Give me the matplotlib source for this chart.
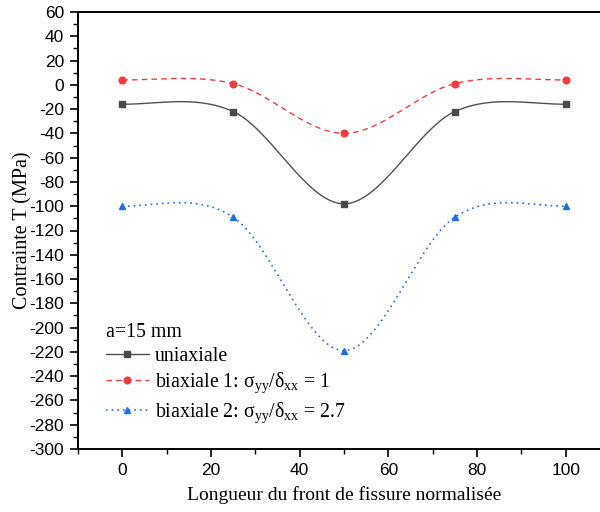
import numpy as np
import matplotlib
matplotlib.use("Agg")
import matplotlib.pyplot as plt
from matplotlib.ticker import MultipleLocator

# Position along the crack front (normalised) and T-stress values (MPa)
x_pos = [0, 25, 50, 75, 100]
t_uniaxiale = [-16, -22, -98, -22, -16]
t_biaxiale1 = [4, 1, -40, 1, 4]
t_biaxiale2 = [-100, -109, -219, -109, -100]

labels = [
    "uniaxiale",
    "biaxiale 1: σ$_{\\mathrm{yy}}$/δ$_{\\mathrm{xx}}$ = 1",
    "biaxiale 2: σ$_{\\mathrm{yy}}$/δ$_{\\mathrm{xx}}$ = 2.7",
]
legend_title = "a=15 mm"
xlabel = "Longueur du front de fissure normalisée"
ylabel = "Contrainte T (MPa)"


def hermite_curve(xk, yk, n=400):
    """Smooth curve through the points (cubic Hermite, central-difference
    tangents, flat ends)."""
    xk = np.asarray(xk, float)
    yk = np.asarray(yk, float)
    m = np.zeros_like(yk)
    m[1:-1] = (yk[2:] - yk[:-2]) / (xk[2:] - xk[:-2])
    xs = np.linspace(xk[0], xk[-1], n)
    idx = np.clip(np.searchsorted(xk, xs) - 1, 0, len(xk) - 2)
    h = xk[idx + 1] - xk[idx]
    t = (xs - xk[idx]) / h
    h00 = 2 * t ** 3 - 3 * t ** 2 + 1
    h10 = t ** 3 - 2 * t ** 2 + t
    h01 = -2 * t ** 3 + 3 * t ** 2
    h11 = t ** 3 - t ** 2
    ys = h00 * yk[idx] + h10 * h * m[idx] + h01 * yk[idx + 1] + h11 * h * m[idx + 1]
    return xs, ys


plt.rcParams["font.family"] = ["Liberation Sans", "DejaVu Sans"]
plt.rcParams["axes.unicode_minus"] = False
plt.rcParams["mathtext.fontset"] = "custom"
plt.rcParams["mathtext.rm"] = "Liberation Serif"
plt.rcParams["mathtext.it"] = "Liberation Serif:italic"

fig = plt.figure(figsize=(6.0, 5.12), dpi=100)
# axes extends slightly past the right edge of the figure
ax = fig.add_axes([78 / 600, 1 - 449 / 512, (610 - 78) / 600, (449 - 12) / 512])

styles = [
    dict(color="#505050", ls="-", marker="s", mfc="#4a4a4a", lw=1.0),
    dict(color="#f03c3c", ls=(0, (4, 3)), marker="o", mfc="#f03c3c", lw=1.0),
    dict(color="#1f6fe0", ls=(0, (1, 2.4)), marker="^", mfc="#1f6fe0", lw=1.2),
]
series = [t_uniaxiale, t_biaxiale1, t_biaxiale2]
ms = 4.8

handles = []
for ys, st, lab in zip(series, styles, labels):
    xs, yc = hermite_curve(x_pos, ys)
    ax.plot(xs, yc, color=st["color"], ls=st["ls"], lw=st["lw"])
    ax.plot(x_pos, ys, ls="none", marker=st["marker"], ms=ms,
            color=st["mfc"], mec=st["mfc"])
    h, = ax.plot([], [], color=st["color"], ls=st["ls"], lw=st["lw"],
                 marker=st["marker"], ms=ms, mfc=st["mfc"], mec=st["mfc"])
    handles.append(h)

ax.set_xlim(-10, 110)
ax.set_ylim(-300, 60)
ax.xaxis.set_major_locator(MultipleLocator(20))
ax.xaxis.set_minor_locator(MultipleLocator(10))
ax.yaxis.set_major_locator(MultipleLocator(20))
ax.yaxis.set_minor_locator(MultipleLocator(10))
ax.tick_params(which="both", direction="out", top=False, right=False)
ax.tick_params(which="major", length=6, width=1.2, labelsize=12.5, pad=4)
ax.tick_params(which="minor", length=3.5, width=1.0)
for sp in ax.spines.values():
    sp.set_linewidth(1.4)

ax.set_xlabel(xlabel, family="Liberation Serif", fontsize=14, labelpad=6)
ax.set_ylabel(ylabel, family="Liberation Serif", fontsize=14.5, labelpad=-2)

leg = ax.legend(handles, labels, title=legend_title, frameon=False,
                loc="lower left", bbox_to_anchor=(106 / 600, 1 - 425 / 512),
                bbox_transform=fig.transFigure, borderpad=0, borderaxespad=0,
                handlelength=2.15, handletextpad=0.3, labelspacing=0.26,
                alignment="left", prop={"family": "Liberation Serif", "size": 14.3},
                title_fontproperties={"family": "Liberation Serif", "size": 14.3})

fig.savefig("out.png", dpi=100)
